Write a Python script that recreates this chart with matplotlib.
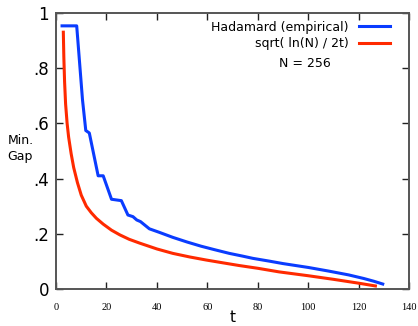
import matplotlib
matplotlib.use("Agg")
import matplotlib.pyplot as plt

# empirical minimum gap, Hadamard walk, N = 256
had_t = [2.4, 8.2, 10.5, 11.8, 13.2, 16.7, 18.7, 22.0, 25.9, 28.5, 30.5, 32.0,
         33.5, 37.0, 41.0, 46.3, 52.0, 57.5, 63.0, 68.7, 74.0, 78.0, 84.5, 90.0,
         100.0, 108.0, 116.0, 122.0, 126.0, 129.5]
had_gap = [0.953, 0.953, 0.685, 0.574, 0.565, 0.41, 0.41, 0.325, 0.32, 0.268, 0.262, 0.25,
           0.244, 0.218, 0.205, 0.187, 0.17, 0.155, 0.142, 0.129, 0.119, 0.111, 0.101, 0.092,
           0.078, 0.065, 0.051, 0.038, 0.028, 0.018]

# bound curve
bnd_t = [2.9, 3.1, 3.4, 3.8, 4.4, 5.0, 6.0, 7.0, 8.5, 10.0, 12.0, 14.0, 16.0, 18.7,
         22.0, 25.3, 29.0, 33.2, 40.0, 46.3, 53.0, 59.5, 66.0, 72.6, 80.0, 88.4,
         100.0, 110.0, 120.0, 126.6]
bnd_gap = [0.93, 0.84, 0.75, 0.67, 0.6, 0.55, 0.49, 0.44, 0.385, 0.34, 0.3, 0.276, 0.256, 0.235,
           0.213, 0.196, 0.18, 0.166, 0.145, 0.129, 0.116, 0.105, 0.095, 0.085, 0.075, 0.062,
           0.048, 0.035, 0.021, 0.011]

xticks = [0, 20, 40, 60, 80, 100, 120, 140]
yticks = [0, 0.2, 0.4, 0.6, 0.8, 1.0]
ytick_labels = ["0", ".2", ".4", ".6", ".8", "1"]

fig = plt.figure(figsize=(4.18, 3.26), dpi=100)
ax = fig.add_axes([0.134, 0.1135, 0.845, 0.847])

ax.plot(had_t, had_gap, color="#0a3cff", linewidth=2.2, label="Hadamard (empirical)")
ax.plot(bnd_t, bnd_gap, color="#ff2a00", linewidth=2.2, label="sqrt( ln(N) / 2t)")

ax.set_xlim(0, 140)
ax.set_ylim(0, 1)
ax.set_xticks(xticks)
ax.set_yticks(yticks)
ax.set_yticklabels(ytick_labels)

for lab in ax.get_xticklabels():
    lab.set_fontfamily("Liberation Serif")
    lab.set_fontsize(7.5)
for lab in ax.get_yticklabels():
    lab.set_fontsize(12)

ax.tick_params(direction="in", length=5, width=1.0, colors="#222222",
               top=True, right=True, labelcolor="black")
ax.tick_params(axis="x", pad=10)
ax.tick_params(axis="y", pad=5)

for s in ax.spines.values():
    s.set_color("#555555")
    s.set_linewidth(1.4)

# axis labels placed by hand so "t" stays inside the canvas
fig.text(0.557, 0.002, "t", fontsize=11, ha="center", va="bottom")
fig.text(0.018, 0.545, "Min.\nGap", fontsize=9, ha="left", va="center", linespacing=1.3)

leg = ax.legend(loc="upper right", bbox_to_anchor=(0.96, 0.99), frameon=False,
                fontsize=9, markerfirst=False, handlelength=2.5,
                handletextpad=0.8, labelspacing=0.3, borderaxespad=0.0)
for t in leg.get_texts():
    t.set_ha("right")
leg._legend_box.align = "right"
fig.text(0.73, 0.805, "N = 256", fontsize=9, ha="center", va="center")

fig.savefig("out.png", dpi=100)
